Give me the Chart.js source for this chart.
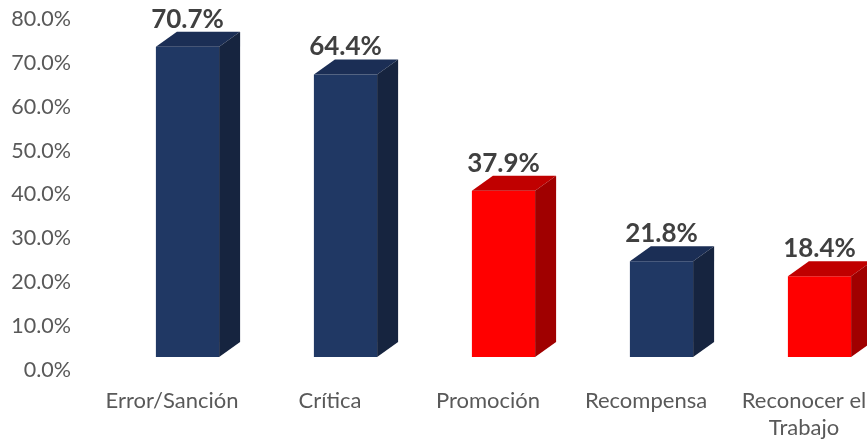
<!DOCTYPE html>
<html>
<head>
<meta charset="utf-8">
<script src="https://cdn.jsdelivr.net/npm/chart.js@4.4.1/dist/chart.umd.min.js"></script>
<style>
  html, body { margin: 0; padding: 0; background: #ffffff; overflow: hidden; }
  #wrap { width: 867px; height: 443px; overflow: hidden; }
  canvas { display: block; }
</style>
</head>
<body>
<div id="wrap"><canvas id="chart" width="910" height="443"></canvas></div>
<script>
// Categories and their percentages
const categories = ['Error/Sanción', 'Crítica', 'Promoción', 'Recompensa', ['Reconocer el', 'Trabajo']];
const values = [70.7, 64.4, 37.9, 21.8, 18.4];
const tickValues = [0, 10, 20, 30, 40, 50, 60, 70, 80];

// Face colours for each bar: front, top, side
const NAVY = { front: '#203864', top: '#1b2e55', side: '#16243f' };
const RED = { front: '#ff0000', top: '#c00000', side: '#a00000' };
const palette = [NAVY, NAVY, RED, NAVY, RED];

const DEPTH_X = 21;
const DEPTH_Y = 15;
const FONT = 'Lato, "Liberation Sans", sans-serif';

// Draws the top and side faces of each bar plus the value label above it
const prism = {
  id: 'prism',
  afterDatasetsDraw(chart) {
    const ctx = chart.ctx;
    const meta = chart.getDatasetMeta(0);
    meta.data.forEach((bar, i) => {
      const { x, y, base, width } = bar.getProps(['x', 'y', 'base', 'width'], true);
      const x0 = x - width / 2;
      const x1 = x + width / 2;
      const c = palette[i];
      ctx.save();
      // top face
      ctx.beginPath();
      ctx.moveTo(x0, y);
      ctx.lineTo(x0 + DEPTH_X, y - DEPTH_Y);
      ctx.lineTo(x1 + DEPTH_X, y - DEPTH_Y);
      ctx.lineTo(x1, y);
      ctx.closePath();
      ctx.fillStyle = c.top;
      ctx.fill();
      // side face
      ctx.beginPath();
      ctx.moveTo(x1, y);
      ctx.lineTo(x1 + DEPTH_X, y - DEPTH_Y);
      ctx.lineTo(x1 + DEPTH_X, base - DEPTH_Y);
      ctx.lineTo(x1, base);
      ctx.closePath();
      ctx.fillStyle = c.side;
      ctx.fill();
      // value label
      ctx.fillStyle = '#404040';
      ctx.font = 'bold 26px ' + FONT;
      ctx.textAlign = 'center';
      ctx.textBaseline = 'alphabetic';
      ctx.fillText(values[i].toFixed(1) + '%', x, y - DEPTH_Y - 4);
      ctx.restore();
    });
  }
};

new Chart(document.getElementById('chart'), {
  type: 'bar',
  data: {
    labels: categories,
    datasets: [{
      data: values,
      backgroundColor: palette.map(c => c.front),
      borderWidth: 0,
      categoryPercentage: 1,
      barPercentage: 0.4,
      xAxisID: 'x',
      yAxisID: 'yBar'
    }]
  },
  options: {
    responsive: false,
    animation: false,
    layout: { padding: { top: 19, right: 11.5, left: 0, bottom: 0 } },
    plugins: { legend: { display: false }, tooltip: { enabled: false } },
    scales: {
      x: {
        type: 'category',
        offset: true,
        grid: { display: false, drawTicks: false },
        border: { display: false },
        ticks: {
          color: '#595959',
          font: { family: FONT, size: 22, lineHeight: 1.21 },
          padding: 17.7,
          labelOffset: -15.5,
          maxRotation: 0,
          autoSkip: false
        },
        afterFit(scale) { scale.height = 73; }
      },
      y: {
        position: 'left',
        min: 0,
        max: 80,
        afterBuildTicks(scale) { scale.ticks = tickValues.map(v => ({ value: v })); },
        grid: { display: false, drawTicks: false },
        border: { display: false },
        ticks: {
          color: '#595959',
          font: { family: FONT, size: 21.5 },
          padding: 37.5,
          callback: v => v.toFixed(1) + '%'
        },
        afterFit(scale) {
          scale.width = 108.5;
          // the wide label gap should not push the plot area down
          scale.paddingTop = 0;
          scale.paddingBottom = 0;
        }
      },
      yBar: {
        display: false,
        min: -2.963,
        max: 77.037
      }
    }
  },
  plugins: [prism]
});
</script>
</body>
</html>
